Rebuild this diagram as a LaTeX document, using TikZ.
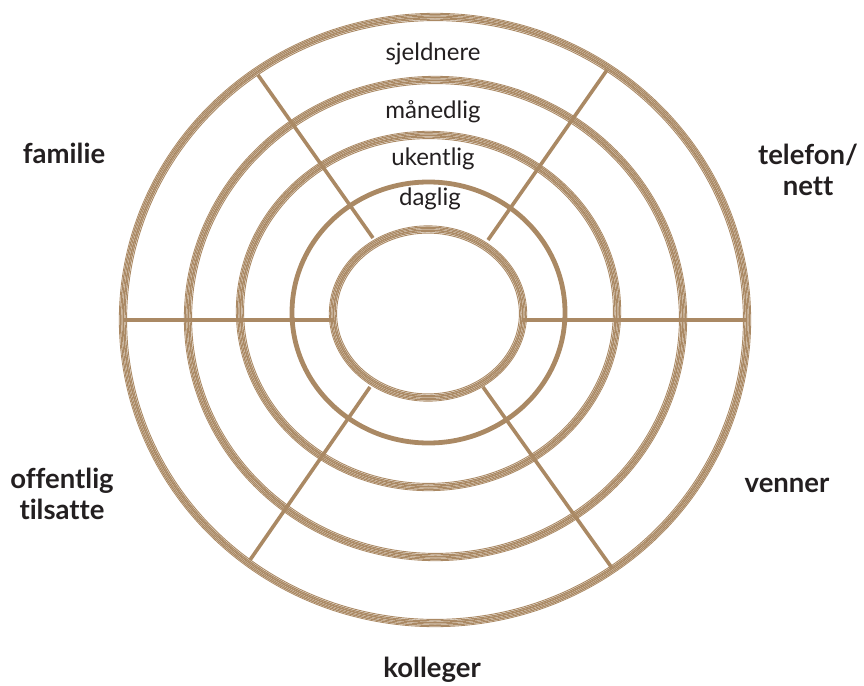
\documentclass[tikz,border=0pt]{standalone}
\usepackage{fontspec}
\setmainfont{Lato}[Ligatures=NoCommon]
\usetikzlibrary{positioning}

\definecolor{ringbrown}{RGB}{170,137,100}
\definecolor{inkdark}{RGB}{35,31,32}

% one brush ring: centre x, centre y, x radius, y radius
\newcommand{\brushring}[4]{%
  \foreach \o/\w in {-3.6/0.9,-2.1/1.2,-0.6/1.6,1.0/1.1,2.4/1.3,3.7/0.8}
    \draw[ringbrown, line width=\w pt] (#1,#2) ellipse [x radius=#3+\o, y radius=#4+\o];
}

\begin{document}
\begin{tikzpicture}[x=1pt, y=-1pt,
  ringlabel/.style={font=\fontsize{24}{26}\selectfont, text=inkdark, anchor=base},
  grouplabel/.style={font=\bfseries\fontsize{27.5}{31}\selectfont, text=inkdark, align=center, anchor=base},
  spoke/.style={ringbrown, line width=3.6pt}]

\useasboundingbox (0,0) rectangle (864,685);

%--------------------
% Rings (outer to inner)
%--------------------
\brushring{435}{320}{312}{303}      % sjeldnere
\brushring{435.5}{318.5}{247.5}{238.5} % maanedlig
\brushring{428.5}{311}{188.5}{176}  % ukentlig
\draw[ringbrown, line width=4.8pt] (428.5,312.5) ellipse [x radius=136.5, y radius=130.5]; % daglig
\brushring{428}{313.5}{95}{84}      % centre

%--------------------
% Spokes
%--------------------
\coordinate (lin) at (334,320);  \coordinate (lout) at (124,320);
\coordinate (rin) at (522,320);  \coordinate (rout) at (746,320);
\coordinate (ulin) at (373,238); \coordinate (ulout) at (258,75);
\coordinate (urin) at (488,240); \coordinate (urout) at (607,70);
\coordinate (llin) at (370,387); \coordinate (llout) at (250,560);
\coordinate (lrin) at (483,387); \coordinate (lrout) at (612,568);

\draw[spoke] (lin) -- (lout);
\draw[spoke] (rin) -- (rout);
\draw[spoke] (ulin) -- (ulout);
\draw[spoke] (urin) -- (urout);
\draw[spoke] (llin) -- (llout);
\draw[spoke] (lrin) -- (lrout);

%--------------------
% Frequency labels
%--------------------
\node[ringlabel] (sjeldnere) at (433,60) {sjeldnere};
\node[ringlabel] (maanedlig) at (433,118) {månedlig};
\node[ringlabel] (ukentlig) at (433,165) {ukentlig};
\node[ringlabel] (daglig) at (430,205) {daglig};

%--------------------
% Group labels (base = last line)
%--------------------
\node[grouplabel] (familie) at (64,163) {familie};
\node[grouplabel] (telefon) at (808,195) {telefon/\\nett};
\node[grouplabel] (venner) at (787,492) {venner};
\node[grouplabel] (offentlig) at (62,519) {offentlig\\tilsatte};
\node[grouplabel] (kolleger) at (432,677) {kolleger};

\end{tikzpicture}
\end{document}
